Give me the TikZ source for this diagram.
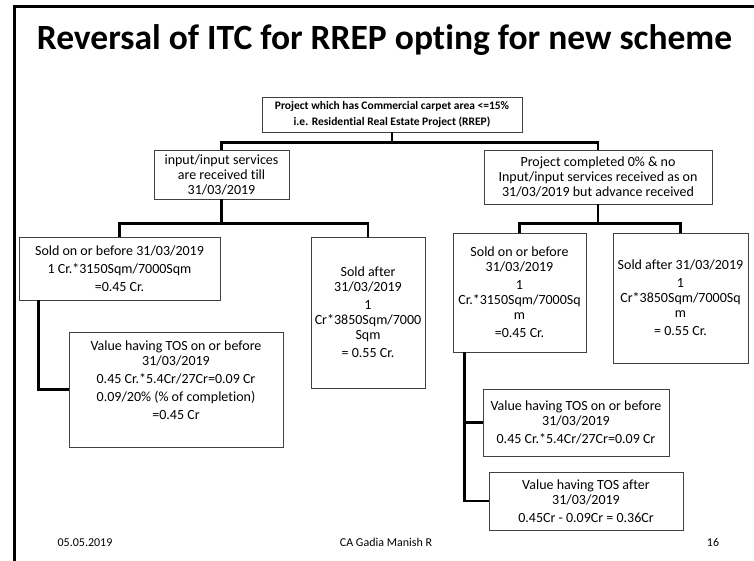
\documentclass[tikz,border=0pt]{standalone}
\usepackage{fontspec}
\setmainfont{Carlito}[Ligatures=CommonOff]

\tikzset{
  box/.style={draw=black!75, line width=0.9pt, align=center, inner sep=2pt,
    font=\fontsize{14}{15}\selectfont},
  conn/.style={line width=2.5pt},
  foot/.style={anchor=base, font=\fontsize{12}{14}\selectfont},
}

\begin{document}
\begin{tikzpicture}[x=1pt,y=-1pt]
\useasboundingbox (0,0) rectangle (754,561);

% slide frame
\draw[line width=3pt] (14,561) -- (14,7) -- (754,7);

\node[font=\bfseries\fontsize{35.5}{40}\selectfont] (title) at (384.5,40) {Reversal of ITC for RREP opting for new scheme};

\node[box, font=\bfseries\fontsize{11.5}{13}\selectfont, minimum width=260pt, minimum height=35pt] (root) at (392,114.5)
  {Project which has Commercial carpet area <=15\%\\[3pt] i.e. Residential Real Estate Project (RREP)};

\node[box, minimum width=135pt, minimum height=49pt] (inp) at (221.5,174.5)
  {input/input services\\ are received till\\ 31/03/2019};
\node[box, minimum width=228pt, minimum height=54pt] (adv) at (598,177)
  {Project completed 0\% \& no\\ Input/input services received as on\\ 31/03/2019 but advance received};

\node[box, minimum width=201pt, minimum height=63pt] (sold1) at (119.5,268.5)
  {Sold on or before 31/03/2019\\[3pt] 1 Cr.*3150Sqm/7000Sqm\\[3pt] =0.45 Cr.};
\node[box, minimum width=114pt, minimum height=151pt] (after1) at (368,312.5)
  {Sold after\\ 31/03/2019\\[3pt] 1\\ Cr*3850Sqm/7000\\ Sqm\\[3pt] = 0.55 Cr.};
\node[box, minimum width=133pt, minimum height=119pt] (sold2) at (519.5,292.5)
  {Sold on or before\\ 31/03/2019\\[3pt] 1\\ Cr.*3150Sqm/7000Sq\\ m\\[3pt] =0.45 Cr.};
\node[box, minimum width=135pt, minimum height=130pt] (after2) at (680.5,298)
  {Sold after 31/03/2019\\[3pt] 1\\ Cr*3850Sqm/7000Sq\\ m\\[3pt] = 0.55 Cr.};

\node[box, minimum width=214pt, minimum height=115pt] (val1) at (176,389.5)
  {Value having TOS on or before\\ 31/03/2019\\[3pt] 0.45 Cr.*5.4Cr/27Cr=0.09 Cr\\[3pt] 0.09/20\% (\% of completion)\\[3pt] =0.45 Cr\\[4pt]};
\node[box, minimum width=186pt, minimum height=67pt] (val2) at (576,422.5)
  {Value having TOS on or before\\ 31/03/2019\\[3pt] 0.45 Cr.*5.4Cr/27Cr=0.09 Cr};
\node[box, minimum width=194pt, minimum height=58pt] (val3) at (586,501)
  {Value having TOS after\\ 31/03/2019\\[3pt] 0.45Cr - 0.09Cr = 0.36Cr};

% connectors
\draw[conn] (root.south) -- ++(0,10) -| (inp.north);
\draw[conn] (root.south) -- ++(0,10) -| (adv.north);
\draw[conn] (inp.south) -- ++(0,24) -| (sold1.north);
\draw[conn] (inp.south) -- ++(0,24) -| (after1.north);
\draw[conn] (adv.south) -- ++(0,19) -| (sold2.north);
\draw[conn] (adv.south) -- ++(0,19) -| (after2.north);
\draw[conn] ([xshift=20pt]sold1.south west) |- (val1.west);
\draw[conn] ([xshift=12pt]sold2.south west) |- (val2.west);
\draw[conn] ([xshift=12pt]sold2.south west) |- (val3.west);

% footer
\node[foot] (date) at (85,546) {05.05.2019};
\node[foot] (name) at (386,546) {CA Gadia Manish R};
\node[foot] (page) at (713,546) {16};
\end{tikzpicture}
\end{document}
